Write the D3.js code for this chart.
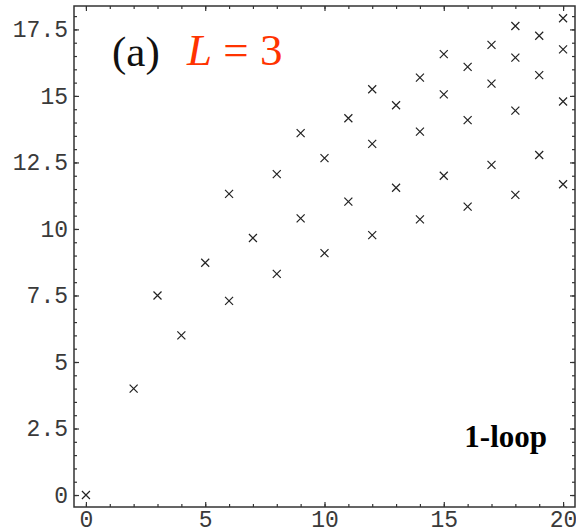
<!DOCTYPE html>
<head>
  <meta charset="utf-8">
  <script src="https://d3js.org/d3.v7.min.js"></script>
  <style>
    body { margin: 0; background: #fff; }
    .tick text { font-family: 'Liberation Mono', 'DejaVu Sans Mono', monospace; font-size: 23px; fill: #3a3a3a; }
    .tick line { stroke: #333; stroke-width: 1.2; }
    .domain { display: none; }
  </style>
</head>
<body>
<div id="chart"></div>
<script>

// ---- data ----
const nValues = [0, 2, 3, 4, 5, 6, 6, 7, 8, 8, 9, 9, 10, 10, 11, 11,
                 12, 12, 12, 13, 13, 14, 14, 14, 15, 15, 15, 16, 16, 16,
                 17, 17, 17, 18, 18, 18, 18, 19, 19, 19, 20, 20, 20, 20];
const energies = [0, 4.0, 7.5, 6.0, 8.73, 7.30, 11.32, 9.66, 8.31, 12.06, 10.40, 13.60, 9.09, 12.66, 11.03, 14.16,
                  9.77, 13.20, 15.25, 11.55, 14.65, 10.36, 13.66, 15.69, 12.00, 15.06, 16.57, 10.84, 14.09, 16.09,
                  12.41, 15.46, 16.92, 11.28, 14.45, 16.44, 17.63, 12.78, 15.78, 17.26, 11.68, 14.79, 16.75, 17.92];

const xMajor = [0, 5, 10, 15, 20];
const yMajor = [0, 2.5, 5, 7.5, 10, 12.5, 15, 17.5];
const xMinor = d3.range(0, 21, 1);
const yMinor = d3.range(0, 18.5, 0.5);

const points = nValues.map((n, i) => ({ n: n, e: energies[i] }));

// ---- layout ----
const W = 576, H = 532;
const pl = 74, pr = 575, pt = 6, pb = 507;

const svg = d3.select('#chart').append('svg')
    .attr('width', W).attr('height', H);

const x = d3.scaleLinear().domain([-0.5, 20.5]).range([pl, pr]);
const y = d3.scaleLinear().domain([-0.45, 18.38]).range([pb, pt]);

// minor ticks (all four sides, pointing inward)
svg.append('g').attr('transform', `translate(0,${pb})`)
    .call(d3.axisBottom(x).tickValues(xMinor).tickSize(-3).tickFormat(''));
svg.append('g').attr('transform', `translate(0,${pt})`)
    .call(d3.axisTop(x).tickValues(xMinor).tickSize(-3).tickFormat(''));
svg.append('g').attr('transform', `translate(${pl},0)`)
    .call(d3.axisLeft(y).tickValues(yMinor).tickSize(-3).tickFormat(''));
svg.append('g').attr('transform', `translate(${pr},0)`)
    .call(d3.axisRight(y).tickValues(yMinor).tickSize(-3).tickFormat(''));

// major ticks
svg.append('g').attr('transform', `translate(0,${pb})`)
    .call(d3.axisBottom(x).tickValues(xMajor).tickSize(-5).tickPadding(4).tickFormat(d3.format('')));
svg.append('g').attr('transform', `translate(0,${pt})`)
    .call(d3.axisTop(x).tickValues(xMajor).tickSize(-5).tickFormat(''));
svg.append('g').attr('transform', `translate(${pl},0)`)
    .call(d3.axisLeft(y).tickValues(yMajor).tickSize(-5).tickPadding(6).tickFormat(d3.format('')));
svg.append('g').attr('transform', `translate(${pr},0)`)
    .call(d3.axisRight(y).tickValues(yMajor).tickSize(-5).tickFormat(''));

// frame
svg.append('rect')
    .attr('x', pl).attr('y', pt)
    .attr('width', pr - pl).attr('height', pb - pt)
    .attr('fill', 'none').attr('stroke', '#333').attr('stroke-width', 1.5);

// cross markers
const s = 4;
svg.append('g').selectAll('path')
    .data(points)
    .enter().append('path')
    .attr('d', d => {
        const cx = x(d.n), cy = y(d.e);
        return `M${cx - s},${cy - s}L${cx + s},${cy + s}M${cx - s},${cy + s}L${cx + s},${cy - s}`;
    })
    .attr('stroke', '#222')
    .attr('stroke-width', 1.2)
    .attr('fill', 'none');

// labels
svg.append('text')
    .attr('x', 112).attr('y', 66)
    .style('font-family', "'Liberation Serif', serif")
    .style('font-size', '43px')
    .attr('fill', '#111')
    .text('(a)');

const lab = svg.append('text')
    .attr('x', 187).attr('y', 65)
    .style('font-family', "'Liberation Serif', serif")
    .style('font-size', '45px')
    .attr('fill', '#ff3300');
lab.append('tspan').style('font-style', 'italic').text('L');
lab.append('tspan').text(' = 3');

svg.append('text')
    .attr('x', 547).attr('y', 447)
    .attr('text-anchor', 'end')
    .style('font-family', "'Liberation Serif', serif")
    .style('font-size', '31px')
    .style('font-weight', 'bold')
    .attr('fill', '#000')
    .text('1-loop');

</script>
</body>
